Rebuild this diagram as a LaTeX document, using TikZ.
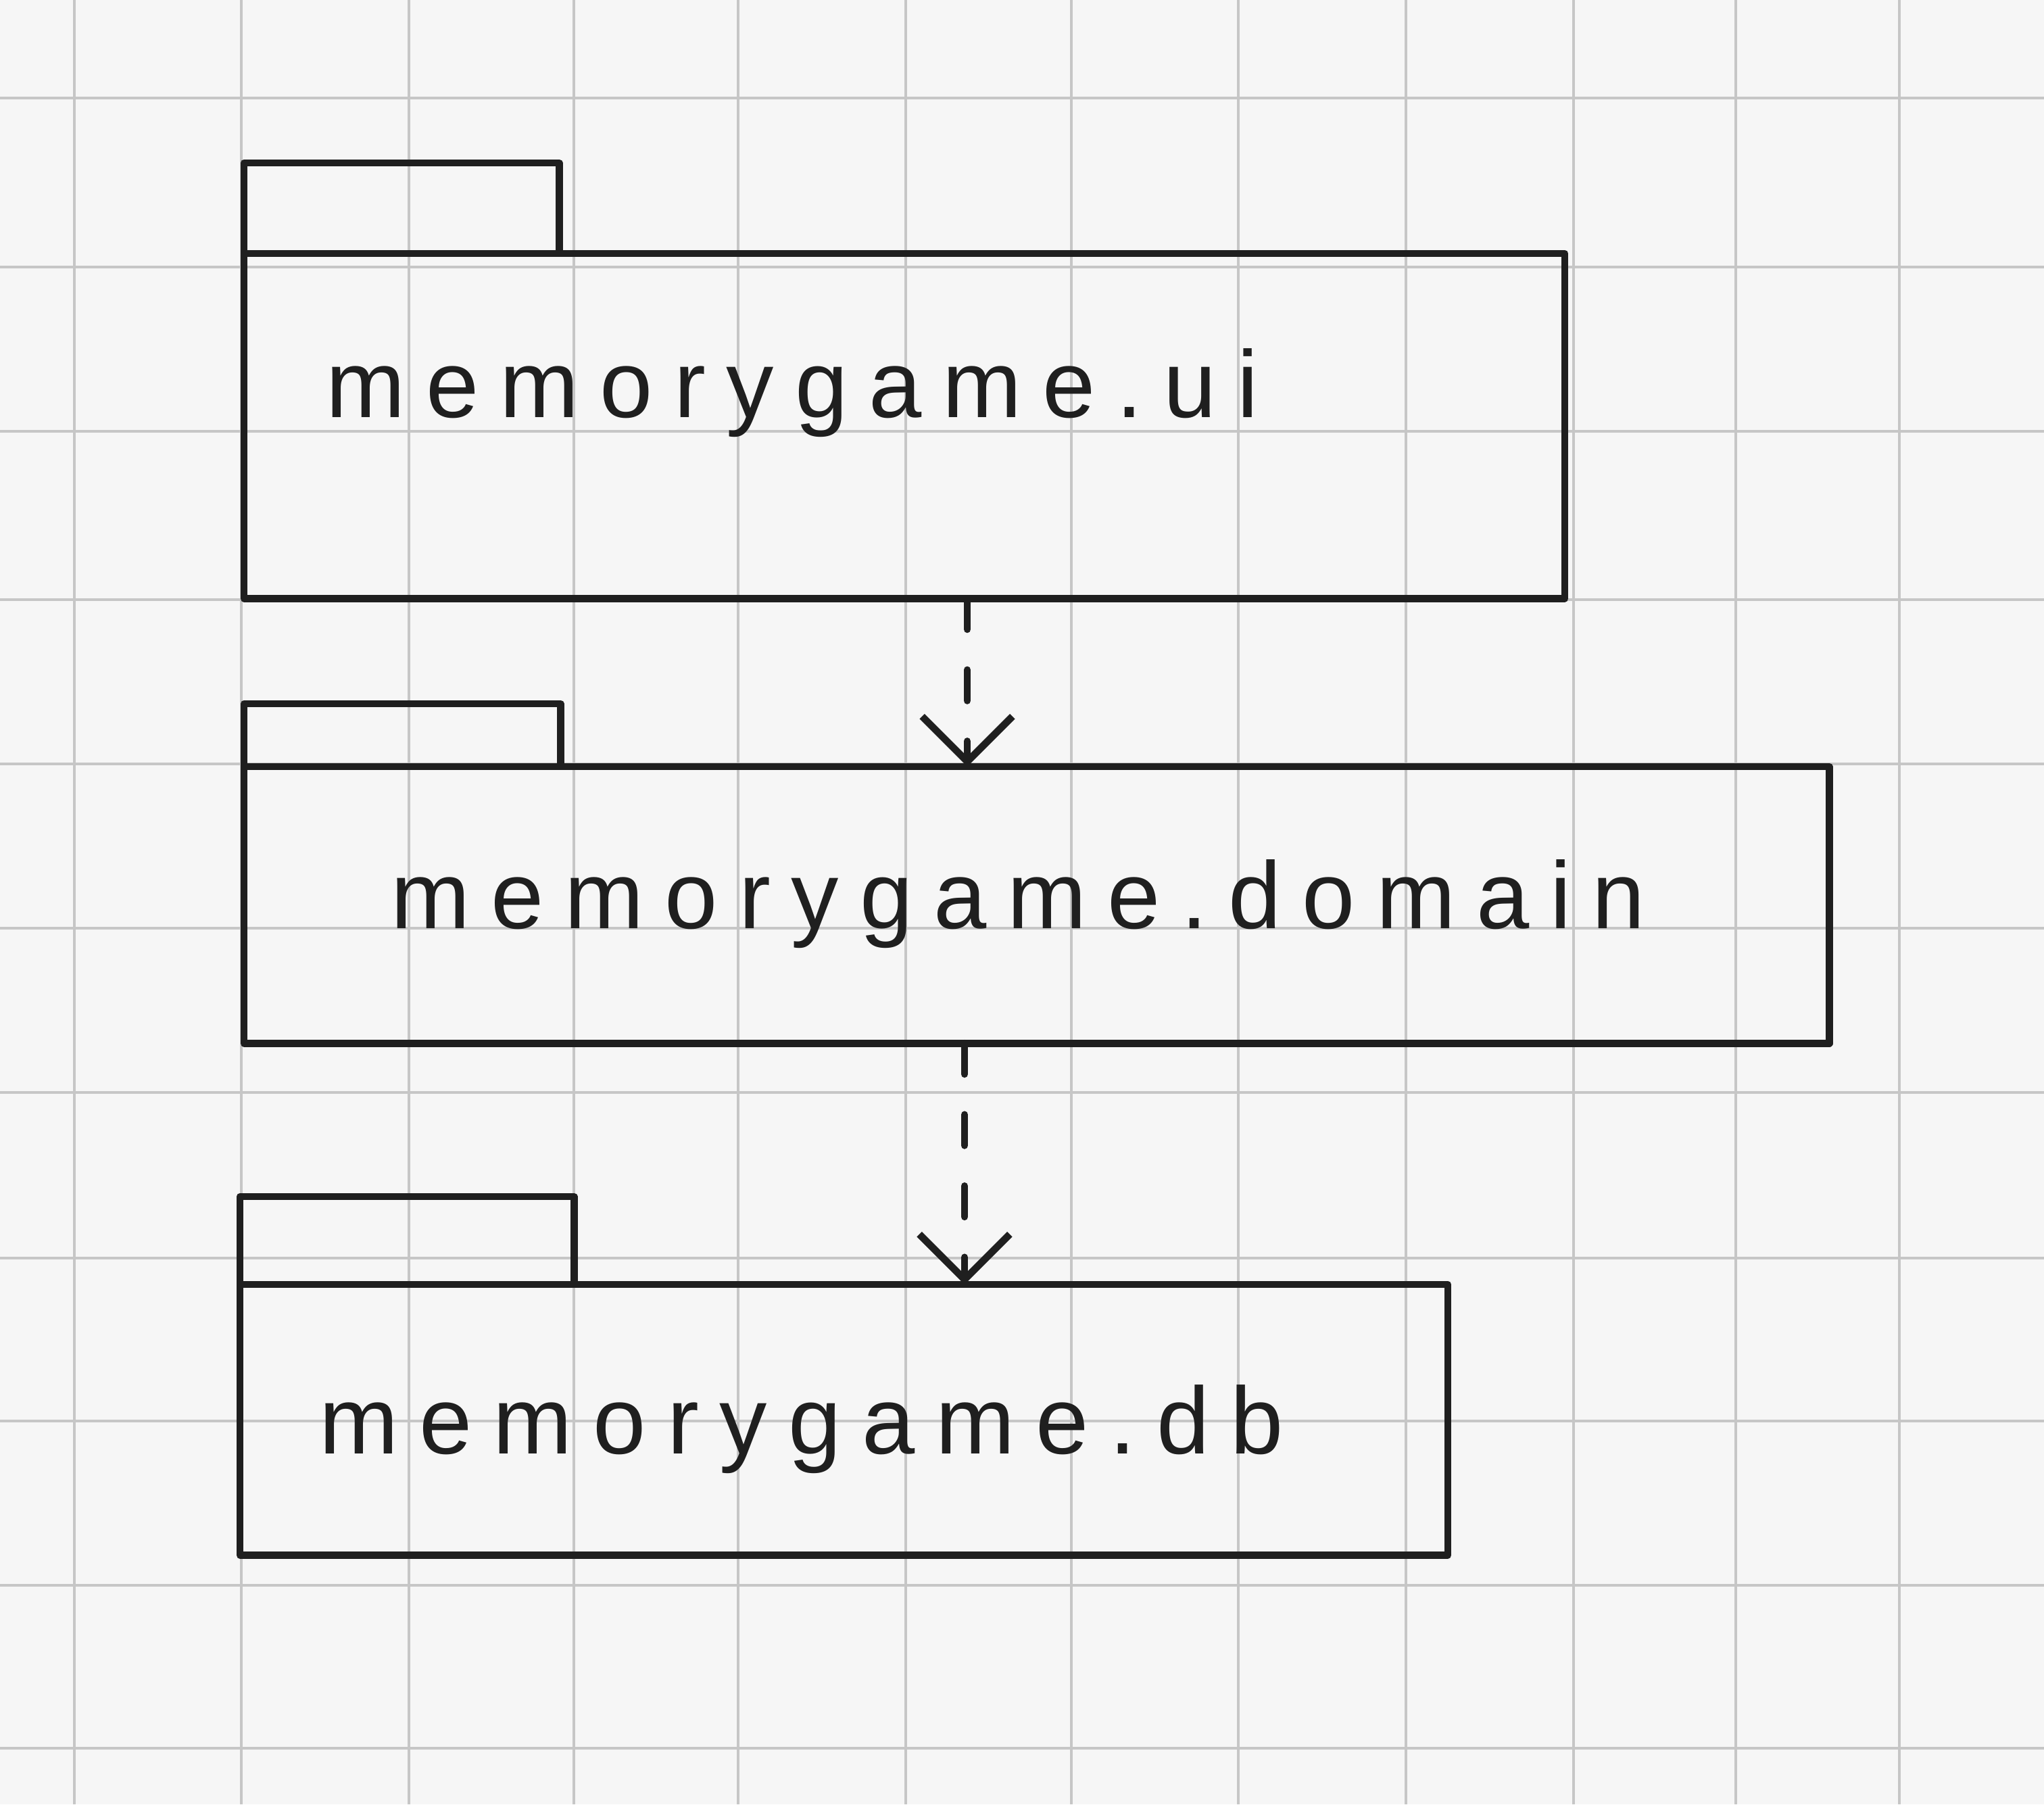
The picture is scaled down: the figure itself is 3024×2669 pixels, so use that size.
\documentclass[tikz,border=0pt]{standalone}
\usepackage{fontspec}
\newfontfamily\handfont[LetterSpace=22]{Liberation Sans}
\usetikzlibrary{arrows.meta}
\begin{document}
\begin{tikzpicture}[x=0.01cm,y=-0.01cm,
  ink/.style={draw=black!88, line width=3pt, line cap=round, line join=round},
  pkgbody/.style={ink, rectangle, inner sep=0pt, outer sep=0pt, anchor=north west},
  pkgtab/.style={ink, rectangle, inner sep=0pt, outer sep=0pt, anchor=south west},
  pkglabel/.style={anchor=base west, inner sep=0pt, font=\handfont\fontsize{40}{48}\selectfont, text=black!88},
  dep/.style={ink, dash pattern=on 13pt off 17pt, -{Straight Barb[length=19pt,width=38pt,line width=3pt]}},
  papergrid/.style={draw=gray!45, line width=1.4pt}
]
\useasboundingbox (0,0) rectangle (3024,2669);
\fill[gray!7] (0,0) rectangle (3024,2669);
\foreach \gx in {110,357,605,849,1092,1340,1585,1832,2080,2328,2568,2810}
  \draw[papergrid] (\gx,0) -- (\gx,2669);
\foreach \gy in {145,395,638,887,1130,1373,1616,1861,2102,2345,2586}
  \draw[papergrid] (0,\gy) -- (3024,\gy);

% package memorygame.ui
\node[pkgbody, minimum width=19.53cm, minimum height=5.10cm] (ui) at (361,375) {};
\node[pkgtab, minimum width=4.66cm, minimum height=1.34cm] (uitab) at (ui.north west) {};
\node[pkglabel] (uilabel) at (482,617) {memorygame.ui};

% package memorygame.domain
\node[pkgbody, minimum width=23.44cm, minimum height=4.09cm] (dom) at (361,1134) {};
\node[pkgtab, minimum width=4.68cm, minimum height=0.93cm] (domtab) at (dom.north west) {};
\node[pkglabel] (domlabel) at (578,1373) {memorygame.domain};

% package memorygame.db
\node[pkgbody, minimum width=17.86cm, minimum height=4.00cm] (db) at (355,1900) {};
\node[pkgtab, minimum width=4.94cm, minimum height=1.30cm] (dbtab) at (db.north west) {};
\node[pkglabel] (dblabel) at (472,2150) {memorygame.db};

% dependencies
\coordinate (xa) at (1431,0);
\coordinate (xb) at (1427,0);
\draw[dep] (ui.south -| xa) -- (dom.north -| xa);
\draw[dep] (dom.south -| xb) -- (db.north -| xb);
\end{tikzpicture}
\end{document}
